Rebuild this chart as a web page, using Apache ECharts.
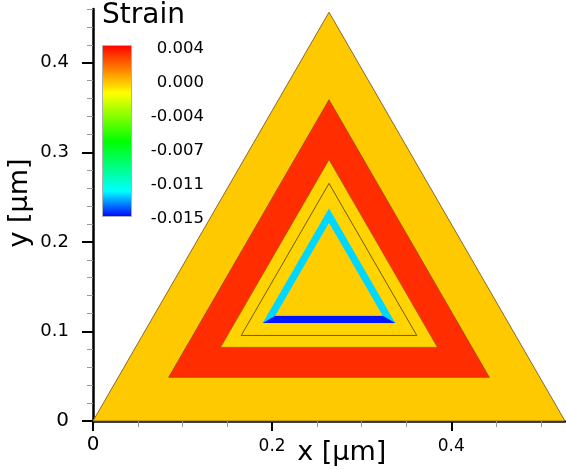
<!DOCTYPE html>
<html>
<head>
<meta charset="utf-8">
<script src="https://cdn.jsdelivr.net/npm/echarts@6/dist/echarts.min.js"></script>
<style>
html,body{margin:0;padding:0;background:#fff;}
#chart{width:566px;height:469px;}
</style>
</head>
<body>
<div id="chart"></div>
<script>
// ---- data ----
const centroid = [0.2635, 0.1521];                       // µm
const triangleSides = [0.527, 0.358, 0.242, 0.148, 0.120]; // nested concentric triangles (µm)
const triangleStrain = [-0.0002, 0.00306, -0.00042, -0.0126, -0.00028];
const bottomBandStrain = -0.01478;                        // bottom edge of the shell
const outlineSide = 0.196;                                // thin outlined triangle
const strainMin = -0.015, strainMax = 0.004;
const legendLabels = ['0.004', '0.000', '-0.004', '-0.007', '-0.011', '-0.015'];
const xMajorTicks = [0, 0.2, 0.4];
const xMinorTicks = [0.05, 0.1, 0.15, 0.25, 0.3, 0.35, 0.45, 0.5];
const yMajorTicks = [0, 0.1, 0.2, 0.3, 0.4];
const yMinorTicks = [0.02, 0.04, 0.06, 0.08, 0.12, 0.14, 0.16, 0.18, 0.22, 0.24, 0.26, 0.28,
                     0.32, 0.34, 0.36, 0.38, 0.42, 0.44, 0.46];

// ---- colormap (top = max strain) ----
const cmapStops = [[0, '#ff0000'], [0.28, '#ffff00'], [0.56, '#00ff00'], [0.85, '#00ffff'], [1, '#0000ff']];
function hex2rgb(h) { return [parseInt(h.substr(1,2),16), parseInt(h.substr(3,2),16), parseInt(h.substr(5,2),16)]; }
function strainColor(v) {
  let t = (strainMax - v) / (strainMax - strainMin);
  t = Math.max(0, Math.min(1, t));
  for (let i = 1; i < cmapStops.length; i++) {
    if (t <= cmapStops[i][0]) {
      const a = cmapStops[i-1], b = cmapStops[i];
      const f = (t - a[0]) / (b[0] - a[0]);
      const ca = hex2rgb(a[1]), cb = hex2rgb(b[1]);
      const c = ca.map((x, k) => Math.round(x + (cb[k] - x) * f));
      return 'rgb(' + c.join(',') + ')';
    }
  }
  return cmapStops[cmapStops.length-1][1];
}
function triVerts(s) {
  const h = s * Math.sqrt(3) / 2;
  return {
    bl: [centroid[0] - s/2, centroid[1] - h/3],
    br: [centroid[0] + s/2, centroid[1] - h/3],
    ap: [centroid[0], centroid[1] + 2*h/3]
  };
}

// region list: [kind, side, side2, strain, layerIndex]
const regionData = [];
triangleSides.forEach((s, i) => {
  regionData.push([0, s, 0, triangleStrain[i], i]);
  if (i === 3) regionData.push([1, triangleSides[3], triangleSides[4], bottomBandStrain, -1]);
});
regionData.push([2, outlineSide, 0, 0, -1]);

const strokeStyles = {0: {stroke: '#8a6a30', lineWidth: 1}, 1: {stroke: '#7a3a10', lineWidth: 0.6},
                      2: {stroke: '#8a5a10', lineWidth: 0.6}};

const chart = echarts.init(document.getElementById('chart'), null, {renderer: 'canvas'});
const numFont = 'DejaVu Sans';

const option = {
  animation: false,
  backgroundColor: '#fff',
  grid: {left: 93, right: 1, top: 9, bottom: 48},
  xAxis: [{
    type: 'value', min: 0, max: 0.527, position: 'bottom',
    splitLine: {show: false},
    axisLine: {onZero: false, lineStyle: {color: '#000', width: 2.5}},
    axisTick: {customValues: xMajorTicks, length: 10, lineStyle: {color: '#000', width: 2}},
    axisLabel: {
      customValues: xMajorTicks, margin: 14,
      formatter: v => v === 0 ? '{big|0}' : '{small|' + v.toFixed(1) + '}',
      rich: {
        big: {fontFamily: numFont, fontSize: 20, lineHeight: 20, color: '#000'},
        small: {fontFamily: numFont, fontSize: 17, lineHeight: 24, color: '#000'}
      }
    }
  }, {
    type: 'value', min: 0, max: 0.527, position: 'bottom',
    splitLine: {show: false},
    axisLine: {show: false, onZero: false},
    axisTick: {customValues: xMinorTicks, length: 6, lineStyle: {color: '#999', width: 1}},
    axisLabel: {show: false}
  }],
  yAxis: [{
    type: 'value', min: 0, max: 0.46, position: 'left',
    splitLine: {show: false},
    axisLine: {onZero: false, lineStyle: {color: '#000', width: 2.5}},
    axisTick: {customValues: yMajorTicks, length: 11, lineStyle: {color: '#000', width: 2}},
    axisLabel: {
      customValues: yMajorTicks, margin: 24,
      formatter: v => v === 0 ? '{big|0}' : '{n|' + v.toFixed(1) + '}',
      rich: {
        big: {fontFamily: numFont, fontSize: 20, color: '#000'},
        n: {fontFamily: numFont, fontSize: 18, color: '#000'}
      }
    }
  }, {
    type: 'value', min: 0, max: 0.46, position: 'left',
    splitLine: {show: false},
    axisLine: {show: false, onZero: false},
    axisTick: {customValues: yMinorTicks, length: 6, lineStyle: {color: '#999', width: 1}},
    axisLabel: {show: false}
  }],
  series: [{
    type: 'custom',
    xAxisIndex: 0, yAxisIndex: 0,
    clip: false,
    data: regionData,
    renderItem: function (params, api) {
      const kind = api.value(0), s = api.value(1), s2 = api.value(2), v = api.value(3), idx = api.value(4);
      const t = triVerts(s);
      if (kind === 0) {
        const pts = [t.bl, t.br, t.ap].map(p => api.coord(p));
        const st = strokeStyles[idx] || {stroke: null, lineWidth: 0};
        return {type: 'polygon', shape: {points: pts},
                style: {fill: strainColor(v), stroke: st.stroke, lineWidth: st.lineWidth}};
      } else if (kind === 1) {
        const u = triVerts(s2);
        const pts = [t.bl, t.br, u.br, u.bl].map(p => api.coord(p));
        return {type: 'polygon', shape: {points: pts}, style: {fill: strainColor(v)}};
      } else {
        const pts = [t.bl, t.br, t.ap].map(p => api.coord(p));
        return {type: 'polygon', shape: {points: pts},
                style: {fill: null, stroke: '#4a3a10', lineWidth: 0.8}};
      }
    }
  }],
  graphic: [
    {type: 'text', left: 102, top: 2, style: {text: 'Strain', fontFamily: 'DejaVu Sans', fontSize: 28, fill: '#000'}},
    {type: 'rect', left: 102, top: 45, shape: {width: 29, height: 171},
     style: {fill: new echarts.graphic.LinearGradient(0, 0, 0, 1, cmapStops.map(s => ({offset: s[0], color: s[1]}))),
             stroke: '#b0b0b0', lineWidth: 1}},
    ...legendLabels.map((lab, i) => ({
      type: 'text', x: 204, y: 49 + i * 33.9,
      style: {text: lab, fontFamily: numFont, fontSize: 16.5, fill: '#000', align: 'right', verticalAlign: 'middle'}
    })),
    {type: 'text', x: 341.7, y: 453,
     style: {text: 'x [µm]', fontFamily: 'DejaVu Sans', fontSize: 27, fill: '#000', align: 'center', verticalAlign: 'middle'}},
    {type: 'text', x: 20, y: 203, rotation: Math.PI / 2,
     style: {text: 'y [µm]', fontFamily: 'DejaVu Sans', fontSize: 27, fill: '#000', align: 'center', verticalAlign: 'middle'}}
  ]
};
chart.setOption(option);
</script>
</body>
</html>
